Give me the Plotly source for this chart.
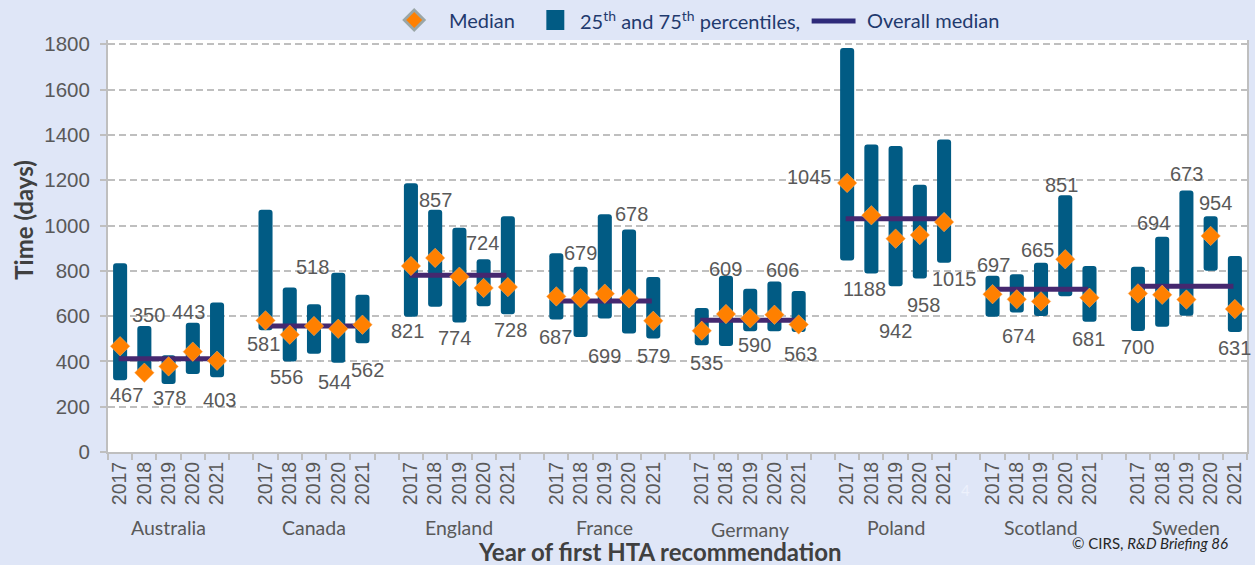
import plotly.graph_objects as go

# ---------------- data ----------------
countries = ["Australia", "Canada", "England", "France", "Germany", "Poland", "Scotland", "Sweden"]
years = ["2017", "2018", "2019", "2020", "2021"]

p25 = [
    [317, 340, 300, 344, 330],   # Australia
    [537, 400, 434, 394, 480],   # Canada
    [597, 641, 572, 644, 608],   # England
    [585, 508, 589, 523, 501],   # France
    [471, 468, 533, 533, 530],   # Germany
    [846, 788, 732, 766, 835],   # Poland
    [597, 616, 600, 688, 575],   # Scotland
    [534, 553, 601, 800, 530],   # Sweden
]
p75 = [
    [833, 556, 427, 571, 660],
    [1070, 726, 652, 791, 694],
    [1186, 1070, 990, 851, 1041],
    [877, 818, 1050, 982, 773],
    [636, 778, 721, 753, 711],
    [1784, 1358, 1351, 1180, 1380],
    [778, 785, 835, 1134, 821],
    [818, 950, 1155, 1041, 865],
]
median = [
    [467, 350, 378, 443, 403],
    [581, 518, 556, 544, 562],
    [821, 857, 774, 724, 728],
    [687, 679, 699, 678, 579],
    [535, 609, 590, 606, 563],
    [1188, 1045, 942, 958, 1015],
    [697, 674, 665, 851, 681],
    [700, 694, 673, 954, 631],
]
overall_median = [412, 556, 780, 667, 582, 1030, 718, 732]

# data labels as printed in the source chart (order of appearance)
label_text = [
    ["467", "350", "378", "443", "403"],
    ["581", "556", "518", "544", "562"],
    ["821", "857", "774", "724", "728"],
    ["687", "679", "699", "678", "579"],
    ["535", "609", "590", "606", "563"],
    ["1045", "1188", "942", "958", "1015"],
    ["697", "674", "665", "851", "681"],
    ["700", "694", "673", "954", "631"],
]
legend_names = ["Median", "25<sup>th</sup> and 75<sup>th</sup> percentiles,", "Overall median"]

# label placement: anchor (b = below bar, t = above bar, m = at median), pixel offsets of label centre
label_anchor = [
    ["b", "t", "b", "t", "b"],
    ["b", "b", "t", "b", "b"],
    ["b", "t", "b", "t", "b"],
    ["b", "t", "b", "t", "b"],
    ["b", "t", "b", "t", "b"],
    ["m", "b", "b", "b", "b"],
    ["t", "b", "t", "t", "b"],
    ["b", "t", "t", "t", "b"],
]
label_dx = [
    [6, 4, 1, -4, 2],
    [-2, -3, -1, -4, 5],
    [-3, 0, -5, -1, 3],
    [-1, 0, 0, 2, 0],
    [5, 0, 4, 8, 2],
    [-38, -7, 0, 4, 10],
    [1, 2, -4, -4, -1],
    [0, -9, 0, 5, 0],
]
label_dy = [
    [15, -11, 14, -11, 23],
    [14, 16, -37, 19, 27],
    [14, -10, 16, -16, 16],
    [17, -14, 37, -16, 17],
    [18, -7, 14, -11, 22],
    [-6, 15, 45, 26, 16],
    [-11, 24, -13, -10, 17],
    [16, -14, -16, -13, 16],
]

# ---------------- style ----------------
BAR = "#015B84"
ORANGE = "#FF8000"
PURPLE = "#45286F"
GRID = "#BFBFBF"
TXT = "#595959"
BG = "#DFE6F7"
LEG = "#1F3A6E"
SLOT = 6  # 5 years + one gap per country
W, H = 1255, 565
PLOT_L, PLOT_R = 107.5, 1249.5
PLOT_TOP, PLOT_BOT = 40, 452
PW = PLOT_R - PLOT_L
PH = PLOT_BOT - PLOT_TOP


def xpaper(px):
    return (px - PLOT_L) / PW


def ypaper(py):
    return (PLOT_BOT - py) / PH


xs, bases, heights, meds = [], [], [], []
for c in range(len(countries)):
    for j in range(len(years)):
        xs.append(c * SLOT + j)
        bases.append(p25[c][j])
        heights.append(p75[c][j] - p25[c][j])
        meds.append(median[c][j])

fig = go.Figure()

fig.add_trace(go.Bar(
    x=xs, y=heights, base=bases, width=0.58,
    marker=dict(color=BAR, line=dict(width=0)),
    name=legend_names[1], showlegend=False, hoverinfo="skip",
))

lx, ly = [], []
for c, om in enumerate(overall_median):
    lx += [c * SLOT - 0.06, c * SLOT + 3.94, None]
    ly += [om, om, None]
fig.add_trace(go.Scatter(
    x=lx, y=ly, mode="lines", name=legend_names[2], showlegend=False,
    line=dict(color=PURPLE, width=5),
))

fig.add_trace(go.Scatter(
    x=xs, y=meds, mode="markers", name=legend_names[0], showlegend=False,
    marker=dict(symbol="diamond", size=15, color=ORANGE, line=dict(color="#FFB066", width=0.5)),
))

annotations = []
for c in range(len(countries)):
    for j in range(len(years)):
        a = label_anchor[c][j]
        if a == "b":
            yv = p25[c][j]
        elif a == "t":
            yv = p75[c][j]
        else:
            yv = median[c][j]
        annotations.append(dict(
            x=c * SLOT + j, y=yv, xref="x", yref="y", text=label_text[c][j],
            showarrow=False, xanchor="center", yanchor="middle",
            xshift=label_dx[c][j], yshift=-label_dy[c][j],
            font=dict(family="Liberation Sans, Arial", size=20, color=TXT),
        ))

# country group labels
for c, name in enumerate(countries):
    annotations.append(dict(
        x=c * SLOT + 2, y=ypaper(529 if name == "Germany" else 527), xref="x", yref="paper",
        text=name, showarrow=False, xanchor="center", yanchor="middle",
        font=dict(family="Lato", size=19.5, color=TXT),
    ))

# legend texts (drawn manually to match spacing of source)
for px, txt in zip([447, 579, 866], legend_names):
    annotations.append(dict(
        x=xpaper(px), y=ypaper(20), xref="paper", yref="paper", text=txt,
        showarrow=False, xanchor="left", yanchor="middle",
        font=dict(family="Lato", size=20, color=LEG),
    ))

annotations += [
    dict(x=xpaper(22), y=ypaper(220), xref="paper", yref="paper", text="<b>Time (days)</b>",
         textangle=-90, showarrow=False, xanchor="center", yanchor="middle",
         font=dict(family="Lato", size=24, color="#404040")),
    dict(x=xpaper(661), y=ypaper(551), xref="paper", yref="paper",
         text="<b>Year of first HTA recommendation</b>", showarrow=False,
         xanchor="center", yanchor="middle",
         font=dict(family="Lato", size=24, color="#404040")),
    dict(x=xpaper(1152), y=ypaper(543), xref="paper", yref="paper",
         text="© CIRS, <i>R&amp;D Briefing 86</i>", showarrow=False,
         xanchor="center", yanchor="middle",
         font=dict(family="Lato", size=15, color="#262626")),
    dict(x=xpaper(967), y=ypaper(490), xref="paper", yref="paper",
         text="4", showarrow=False, xanchor="center", yanchor="middle",
         font=dict(family="Lato", size=15, color="#EDF1FC")),
]

# legend symbols
shapes = [
    dict(type="path", xref="paper", yref="paper", xsizemode="pixel", ysizemode="pixel",
         xanchor=xpaper(414.5), yanchor=ypaper(20),
         path="M 0 12 L 12 0 L 0 -12 L -12 0 Z", fillcolor="#9AA6A6", line=dict(width=0)),
    dict(type="path", xref="paper", yref="paper", xsizemode="pixel", ysizemode="pixel",
         xanchor=xpaper(414.5), yanchor=ypaper(20),
         path="M 0 8 L 8 0 L 0 -8 L -8 0 Z", fillcolor=ORANGE, line=dict(width=0)),
    dict(type="rect", xref="paper", yref="paper",
         x0=xpaper(547), x1=xpaper(565), y0=ypaper(30), y1=ypaper(10),
         fillcolor=BAR, line=dict(width=0)),
    dict(type="line", xref="paper", yref="paper",
         x0=xpaper(813), x1=xpaper(857), y0=ypaper(21), y1=ypaper(21),
         line=dict(color="#2E2A7A", width=5)),
]

tickvals = xs
ticktext = [years[j] for c in range(len(countries)) for j in range(len(years))]

fig.update_layout(
    width=W, height=H,
    margin=dict(l=PLOT_L, r=W - PLOT_R, t=PLOT_TOP, b=H - PLOT_BOT, pad=0),
    paper_bgcolor=BG, plot_bgcolor="white",
    barcornerradius=3,
    showlegend=False,
    annotations=annotations,
    shapes=shapes,
    xaxis=dict(
        range=[-0.5, 46.5], tickmode="array", tickvals=tickvals, ticktext=ticktext,
        tickangle=-90, ticks="", showgrid=False, zeroline=False,
        showline=True, linecolor=GRID, linewidth=2,
        tickfont=dict(family="Liberation Sans, Arial", size=19.5, color=TXT),
        minor=dict(tickmode="linear", tick0=-0.5, dtick=1, ticks="outside",
                   ticklen=6, tickcolor=GRID, tickwidth=1.5, showgrid=False),
    ),
    yaxis=dict(
        range=[0, PH / 0.2265], tick0=0, dtick=200,
        showgrid=True, gridcolor=GRID, griddash="7px,4px", gridwidth=1.5,
        zeroline=False, showline=True, linecolor=GRID, linewidth=2, mirror=True,
        ticks="outside", ticklen=6, tickcolor=GRID, tickwidth=1.5,
        ticklabelstandoff=6,
        tickfont=dict(family="Liberation Sans, Arial", size=20.5, color=TXT),
    ),
)

fig.write_html("out.html", config={"displayModeBar": False},
               post_script="document.body.style.margin='0';")
